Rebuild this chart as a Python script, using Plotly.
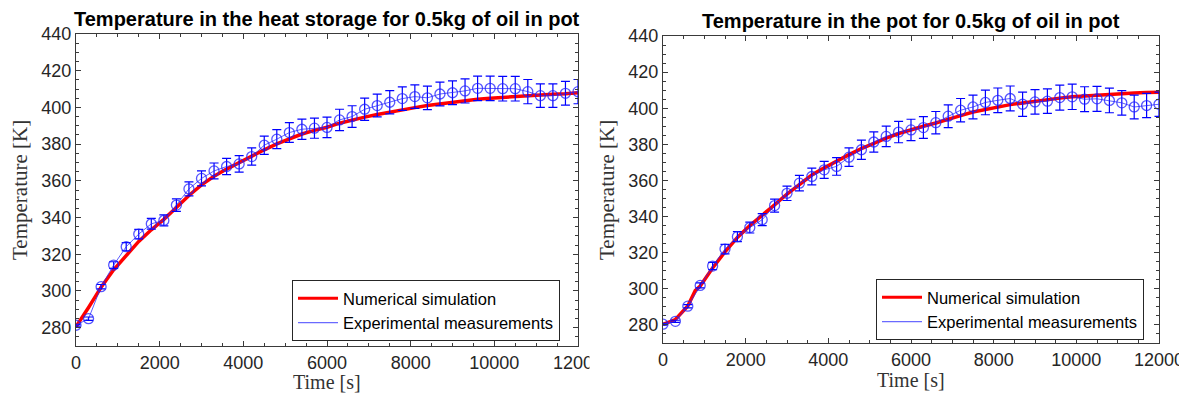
import plotly.graph_objects as go

# ---------------- data ----------------
time_exp = [0, 300, 600, 900, 1200, 1500, 1800, 2100, 2400, 2700,
            3000, 3300, 3600, 3900, 4200, 4500, 4800, 5100, 5400, 5700,
            6000, 6300, 6600, 6900, 7200, 7500, 7800, 8100, 8400, 8700,
            9000, 9300, 9600, 9900, 10200, 10500, 10800, 11100, 11400, 11700,
            12000]

storage_exp = [281.3, 284.9, 302.3, 314.1, 324.1, 331.0, 336.6, 338.4, 346.8, 355.6,
               361.3, 365.4, 367.8, 369.2, 373.2, 379.4, 382.7, 386.3, 388.1, 388.7,
               389.1, 393.2, 395.0, 399.0, 401.0, 402.8, 404.8, 405.9, 405.2, 407.3,
               408.0, 409.0, 410.4, 410.4, 410.2, 410.2, 408.6, 406.4, 406.4, 407.7,
               408.6]
storage_err = [0.5, 0.9, 1.2, 1.8, 2.2, 2.6, 2.9, 3.0, 3.4, 3.8,
               4.1, 4.3, 4.4, 4.5, 4.7, 5.0, 5.2, 5.4, 5.5, 5.5,
               5.6, 5.8, 5.9, 6.1, 6.2, 6.3, 6.4, 6.4, 6.4, 6.5,
               6.5, 6.6, 6.7, 6.7, 6.7, 6.7, 6.6, 6.4, 6.4, 6.5,
               6.6]

storage_sim_time = [0, 150, 300, 450, 600,
                    900, 1200, 1500, 1800, 2100, 2400, 2700, 3000, 3300, 3600,
                    3900, 4200, 4500, 4800, 5100, 5400, 5700, 6000, 6300, 6600,
                    6900, 7200, 7500, 7800, 8100, 8400, 8700, 9000, 9300, 9600,
                    9900, 10200, 10500, 10800, 11100, 11400, 11700, 12000]
storage_sim = [280.5, 285.5, 291.0, 296.5, 302.0,
               311.5, 319.5, 327.0, 333.3, 339.0, 345.5, 352.0, 357.8, 362.5, 366.4,
               370.0, 373.6, 376.9, 380.1, 383.0, 385.5, 387.5, 389.2, 391.4, 393.2,
               394.7, 396.1, 397.5, 398.6, 399.9, 401.0, 401.9, 402.8, 403.7, 404.4,
               405.0, 405.5, 406.1, 406.4, 406.8, 407.2, 407.5, 408.0]

pot_exp = [280.4, 282.0, 290.4, 301.9, 312.6, 322.0, 328.9, 333.9, 338.3, 346.1,
           352.9, 358.5, 362.2, 365.9, 367.8, 372.9, 377.0, 381.3, 384.4, 386.8,
           388.0, 389.3, 392.0, 395.6, 398.9, 400.7, 403.2, 404.4, 405.4, 402.2,
           403.5, 403.9, 405.9, 406.3, 405.0, 405.2, 404.3, 403.0, 400.7, 401.5,
           402.2]
pot_err = [0.5, 0.6, 0.9, 1.4, 2.0, 2.6, 2.8, 3.0, 3.3, 3.6,
           4.0, 4.3, 4.6, 4.7, 4.9, 5.1, 5.3, 5.6, 5.7, 5.9,
           5.9, 6.0, 6.2, 6.3, 6.5, 6.6, 6.8, 6.8, 6.9, 6.7,
           6.8, 6.8, 6.9, 7.0, 6.9, 6.9, 6.8, 6.8, 6.6, 6.7,
           6.7]

pot_sim_time = [0, 300, 600, 700, 780, 900,
                1200, 1500, 1800, 2100, 2400, 2700, 3000, 3300, 3600, 3900,
                4200, 4500, 4800, 5100, 5400, 5700, 6000, 6300, 6600, 6900,
                7200, 7500, 7800, 8100, 8400, 8700, 9000, 9300, 9600, 9900,
                10200, 10500, 10800, 11100, 11400, 11700, 12000]
pot_sim = [280.3, 283.0, 290.5, 295.0, 299.0, 301.5,
           311.5, 320.5, 328.5, 335.0, 340.5, 346.5, 352.5, 358.0, 363.0, 367.0,
           370.8, 374.3, 377.6, 380.7, 383.5, 386.0, 388.2, 390.0, 391.8, 394.1,
           395.9, 397.9, 399.4, 400.7, 402.0, 402.9, 403.9, 404.8, 405.6, 406.3,
           406.8, 407.4, 407.8, 408.2, 408.5, 408.7, 408.9]

titles = ["Temperature in the heat storage for 0.5kg of oil in pot",
          "Temperature in the pot for 0.5kg of oil in pot"]
legend_names = ["Numerical simulation", "Experimental measurements"]
x_tick_vals = [0, 2000, 4000, 6000, 8000, 10000, 12000]
y_tick_vals = [280, 300, 320, 340, 360, 380, 400, 420, 440]

# ---------------- styling ----------------
# the page has an 8px body margin, so the figure is drawn 8px in from the corner
OFF = 8
W, H = 1187 - 2 * OFF, 401 - 2 * OFF
RED = "#ff0000"
BLUE = "#0000ff"
AX = "#3a3a3a"
TICKFONT = dict(family="Liberation Sans, Arial, sans-serif", size=18, color="#262626")

fig = go.Figure()

panels = [
    dict(sim_t=storage_sim_time, sim=storage_sim, exp=storage_exp, err=storage_err,
         xa="x", ya="y", legend="legend"),
    dict(sim_t=pot_sim_time, sim=pot_sim, exp=pot_exp, err=pot_err,
         xa="x2", ya="y2", legend="legend2"),
]

for p in panels:
    fig.add_trace(go.Scatter(
        x=p["sim_t"], y=p["sim"], mode="lines",
        line=dict(color=RED, width=3.5),
        xaxis=p["xa"], yaxis=p["ya"], showlegend=False, hoverinfo="skip"))
    fig.add_trace(go.Scatter(
        x=time_exp, y=p["exp"], mode="lines+markers",
        line=dict(color="rgba(40,40,255,0.75)", width=1),
        marker=dict(symbol="circle-open", size=10,
                    color="rgba(30,30,255,0.75)", line=dict(width=1.3)),
        error_y=dict(type="data", array=p["err"], visible=True,
                     color=BLUE, thickness=1.2, width=4.5),
        xaxis=p["xa"], yaxis=p["ya"], showlegend=False))
    # legend entries (lines only, like the original legend)
    fig.add_trace(go.Scatter(
        x=[None], y=[None], mode="lines", name=legend_names[0],
        line=dict(color=RED, width=3), xaxis=p["xa"], yaxis=p["ya"],
        legend=p["legend"]))
    fig.add_trace(go.Scatter(
        x=[None], y=[None], mode="lines", name=legend_names[1],
        line=dict(color="rgba(80,80,255,0.85)", width=1.3), xaxis=p["xa"], yaxis=p["ya"],
        legend=p["legend"]))


def xaxis(domain, anchor):
    return dict(domain=domain, anchor=anchor, range=[0, 12000], automargin=False,
                tickvals=x_tick_vals, tickformat="d", ticks="inside", ticklen=5,
                tickcolor=AX, ticklabeloverflow="allow",
                showline=True, linecolor=AX, linewidth=1, mirror="ticks",
                showgrid=False, zeroline=False, tickfont=TICKFONT,
                minor=dict(dtick=500, ticks="inside", ticklen=3, tickcolor=AX,
                           showgrid=False))


def yaxis(domain, anchor):
    return dict(domain=domain, anchor=anchor, range=[270, 440], automargin=False,
                tickvals=y_tick_vals, tickformat="d", ticks="inside", ticklen=5,
                tickcolor=AX, ticklabeloverflow="allow",
                showline=True, linecolor=AX, linewidth=1, mirror="ticks",
                showgrid=False, zeroline=False, tickfont=TICKFONT,
                minor=dict(dtick=5, tick0=270, ticks="inside", ticklen=3,
                           tickcolor=AX, showgrid=False))


def px_x(v):
    return (v - OFF) / W


def px_y(v):
    return 1 - (v - OFF) / H


legend_style = dict(bgcolor="white", bordercolor="#262626", borderwidth=1,
                    font=dict(family="Liberation Sans, Arial, sans-serif",
                              size=16.5, color="#000"),
                    xanchor="left", yanchor="top", tracegroupgap=0,
                    itemwidth=40)

title_font = dict(family="Liberation Sans, Arial, sans-serif", size=20,
                  color="#000", weight="bold")
label_font = dict(family="Liberation Serif, Times New Roman, serif", size=21,
                  color="#333")
xlabel_font = dict(family="Liberation Serif, Times New Roman, serif", size=20,
                   color="#333")

fig.update_layout(
    width=W, height=H,
    margin=dict(l=0, r=0, t=0, b=0, autoexpand=False),
    paper_bgcolor="white", plot_bgcolor="white",
    xaxis=xaxis([px_x(76), px_x(578)], "y"),
    yaxis=yaxis([px_y(346), px_y(34)], "x"),
    xaxis2=xaxis([px_x(663), px_x(1159)], "y2"),
    yaxis2=yaxis([px_y(343), px_y(36)], "x2"),
    legend=dict(x=px_x(292), y=px_y(280), **legend_style),
    legend2=dict(x=px_x(876), y=px_y(279), **legend_style),
    annotations=[
        dict(text=titles[0], x=px_x(327), y=px_y(19.5), xref="paper", yref="paper",
             xanchor="center", yanchor="middle", showarrow=False, font=title_font),
        dict(text=titles[1], x=px_x(911), y=px_y(21.5), xref="paper", yref="paper",
             xanchor="center", yanchor="middle", showarrow=False, font=title_font),
        dict(text="Time [s]", x=px_x(327), y=px_y(381.5), xref="paper", yref="paper",
             xanchor="center", yanchor="middle", showarrow=False, font=xlabel_font),
        dict(text="Time [s]", x=px_x(911), y=px_y(380), xref="paper", yref="paper",
             xanchor="center", yanchor="middle", showarrow=False, font=xlabel_font),
        dict(text="Temperature [K]", x=px_x(20), y=px_y(190), xref="paper", yref="paper",
             xanchor="center", yanchor="middle", textangle=-90, showarrow=False,
             font=label_font),
        dict(text="Temperature [K]", x=px_x(607), y=px_y(190), xref="paper", yref="paper",
             xanchor="center", yanchor="middle", textangle=-90, showarrow=False,
             font=label_font),
    ],
    shapes=[
        dict(type="rect", xref="paper", yref="paper", layer="above",
             x0=px_x(589.5), x1=px_x(606), y0=px_y(376), y1=px_y(354),
             fillcolor="white", line=dict(width=0)),
    ],
)

fig.write_html("out.html")
